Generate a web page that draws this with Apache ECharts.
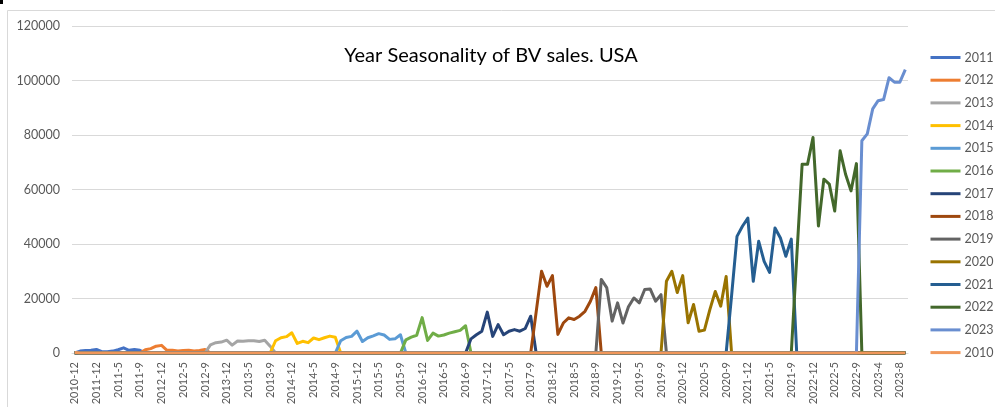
<!DOCTYPE html>
<html>
<head>
<meta charset="utf-8">
<script src="https://cdn.jsdelivr.net/npm/echarts@6/dist/echarts.min.js"></script>
<style>
  html, body { margin: 0; padding: 0; background: #fff; }
  #main { width: 995px; height: 407px; }
</style>
</head>
<body>
<div id="main"></div>
<script>
    // month labels, in the (text sorted) order of the source sheet
    var categories = [
        '2010-12',
        '2011-1', '2011-10', '2011-11', '2011-12', '2011-2', '2011-3', '2011-4', '2011-5', '2011-6', '2011-7', '2011-8', '2011-9',
        '2012-1', '2012-10', '2012-11', '2012-12', '2012-2', '2012-3', '2012-4', '2012-5', '2012-6', '2012-7', '2012-8', '2012-9',
        '2013-1', '2013-10', '2013-11', '2013-12', '2013-2', '2013-3', '2013-4', '2013-5', '2013-6', '2013-7', '2013-8', '2013-9',
        '2014-1', '2014-10', '2014-11', '2014-12', '2014-2', '2014-3', '2014-4', '2014-5', '2014-6', '2014-7', '2014-8', '2014-9',
        '2015-1', '2015-10', '2015-11', '2015-12', '2015-2', '2015-3', '2015-4', '2015-5', '2015-6', '2015-7', '2015-8', '2015-9',
        '2016-1', '2016-10', '2016-11', '2016-12', '2016-2', '2016-3', '2016-4', '2016-5', '2016-6', '2016-7', '2016-8', '2016-9',
        '2017-1', '2017-10', '2017-11', '2017-12', '2017-2', '2017-3', '2017-4', '2017-5', '2017-6', '2017-7', '2017-8', '2017-9',
        '2018-1', '2018-10', '2018-11', '2018-12', '2018-2', '2018-3', '2018-4', '2018-5', '2018-6', '2018-7', '2018-8', '2018-9',
        '2019-1', '2019-10', '2019-11', '2019-12', '2019-2', '2019-3', '2019-4', '2019-5', '2019-6', '2019-7', '2019-8', '2019-9',
        '2020-1', '2020-10', '2020-11', '2020-12', '2020-2', '2020-3', '2020-4', '2020-5', '2020-6', '2020-7', '2020-8', '2020-9',
        '2021-1', '2021-10', '2021-11', '2021-12', '2021-2', '2021-3', '2021-4', '2021-5', '2021-6', '2021-7', '2021-8', '2021-9',
        '2022-1', '2022-10', '2022-11', '2022-12', '2022-2', '2022-3', '2022-4', '2022-5', '2022-6', '2022-7', '2022-8', '2022-9',
        '2023-1', '2023-2', '2023-3', '2023-4', '2023-5', '2023-6', '2023-7', '2023-8', '2023-9'
    ];

    // sales per year, same order as the labels above (zero outside its own year)
    var sales2011 = [700, 900, 1000, 1300, 500, 500, 700, 1200, 1900, 1000, 1300, 1000];
    var sales2012 = [1200, 1600, 2500, 2800, 1000, 1000, 700, 900, 1000, 700, 900, 1300];
    var sales2013 = [3000, 3800, 4000, 4700, 2900, 4400, 4300, 4500, 4500, 4200, 4700, 2500];
    var sales2014 = [4500, 5600, 6000, 7400, 3500, 4300, 3800, 5500, 4900, 5600, 6200, 5800];
    var sales2015 = [4500, 5700, 6100, 8000, 4200, 5600, 6300, 7100, 6600, 5000, 5200, 6700];
    var sales2016 = [4800, 5800, 6500, 13000, 4600, 7300, 6200, 6600, 7300, 7800, 8300, 10000];
    var sales2017 = [5200, 6700, 8000, 15000, 6100, 10400, 6700, 8000, 8600, 8000, 9000, 13500];
    var sales2018 = [15000, 30000, 24500, 28400, 6800, 11000, 12900, 12300, 13500, 15300, 19000, 24000];
    var sales2019 = [27000, 24000, 11700, 18400, 11000, 17000, 20200, 18400, 23300, 23500, 19000, 21400];
    var sales2020 = [26300, 30000, 22200, 28400, 11100, 17800, 8000, 8400, 15900, 22600, 17200, 28100];
    var sales2021 = [21000, 42800, 46500, 49500, 26300, 41000, 33600, 29600, 45900, 42200, 35500, 41800];
    var sales2022 = [35000, 69300, 69300, 79100, 46600, 63800, 62000, 52100, 74200, 65600, 59500, 69500];
    var sales2023 = [77900, 80400, 89600, 92600, 93000, 101000, 99400, 99400, 104000];
    var sales2010 = [200];

    var years = ['2011', '2012', '2013', '2014', '2015', '2016', '2017', '2018', '2019', '2020', '2021', '2022', '2023', '2010'];
    var yearSales = [sales2011, sales2012, sales2013, sales2014, sales2015, sales2016, sales2017,
        sales2018, sales2019, sales2020, sales2021, sales2022, sales2023, sales2010];
    var colors = ['#4472C4', '#ED7D31', '#A5A5A5', '#FFC000', '#5B9BD5', '#70AD47', '#264478',
        '#9E480E', '#636363', '#997300', '#255E91', '#43682B', '#698ED0', '#F1975A'];

    var font = 'Lato, "Liberation Sans", sans-serif';

    // each year is its own line, padded with zeros over the other months
    var series = years.map(function (y, k) {
        var first = y === '2010' ? categories.indexOf('2010-12') : categories.indexOf(y + '-1');
        var vals = yearSales[k];
        return {
            name: y,
            type: 'line',
            symbol: 'none',
            lineStyle: { width: 3, color: colors[k], join: 'round' },
            itemStyle: { color: colors[k] },
            data: categories.map(function (c, i) {
                return (i >= first && i < first + vals.length) ? vals[i - first] : 0;
            })
        };
    });

    var myChart = echarts.init(document.getElementById('main'));

    myChart.setOption({
        animation: false,
        title: {
            text: 'Year Seasonality of BV sales. USA',
            left: 491,
            top: 46,
            padding: 0,
            textAlign: 'center',
            textStyle: { fontFamily: font, fontSize: 20, fontWeight: 'normal', color: '#000' }
        },
        legend: {
            orient: 'vertical',
            left: 929,
            top: 51,
            padding: 0,
            itemWidth: 30,
            itemHeight: 14,
            itemGap: 9.7,
            itemStyle: { opacity: 0 },   // keep only the line in the key
            lineStyle: { width: 3 },
            data: years,
            textStyle: { fontFamily: font, fontSize: 12.5, color: '#595959', padding: [0, 0, 0, -1] }
        },
        grid: {
            left: 72,
            right: 87,
            top: 26,
            bottom: 54,
            outerBoundsMode: 'none'
        },
        xAxis: {
            type: 'category',
            data: categories,
            boundaryGap: true,
            axisLine: { lineStyle: { color: '#d9d9d9' } },
            axisTick: { show: false },
            axisLabel: {
                interval: 3,
                rotate: 90,
                margin: 9,
                fontFamily: font,
                fontSize: 11,
                color: '#595959'
            }
        },
        yAxis: {
            type: 'value',
            min: 0,
            max: 120000,
            interval: 20000,
            axisLine: { show: false },
            axisTick: { show: false },
            splitLine: { lineStyle: { color: '#d9d9d9', width: 1 } },
            axisLabel: {
                margin: 12,
                fontFamily: font,
                fontSize: 12.5,
                color: '#595959',
                formatter: function (v) { return String(v); }
            }
        },
        graphic: [
            {
                type: 'rect',
                z: -10,
                silent: true,
                shape: { x: 7.5, y: 10.5, width: 1000, height: 420 },
                style: { fill: null, stroke: '#d9d9d9', lineWidth: 1 }
            },
            {
                type: 'rect',
                silent: true,
                shape: { x: 0, y: 0, width: 3, height: 4 },
                style: { fill: '#000' }
            }
        ],
        series: series
    });
</script>
</body>
</html>
